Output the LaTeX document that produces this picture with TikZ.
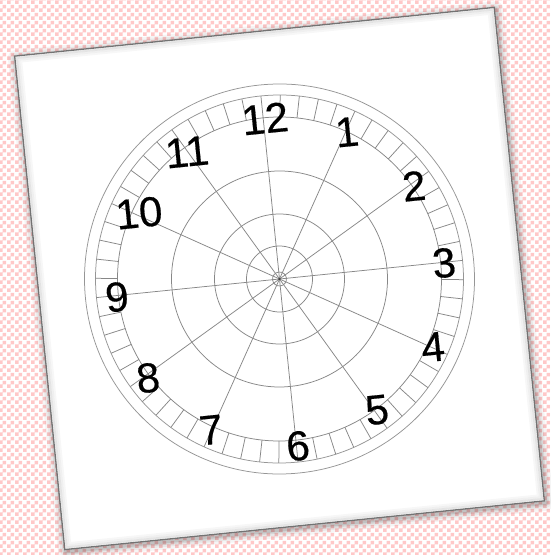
\documentclass[tikz,border=0pt]{standalone}
\usepackage{fontspec}
\setmainfont{Liberation Sans}
\newfontfamily\numfont[FakeBold=0.4]{Liberation Sans}
\usetikzlibrary{patterns}
\definecolor{pinkc}{RGB}{255,200,200}
\definecolor{linec}{RGB}{135,135,135}
\definecolor{ringc}{RGB}{150,150,150}
\pgfdeclarepatternformonly{pinkcheck}{\pgfpointorigin}{\pgfqpoint{8pt}{8pt}}{\pgfqpoint{8pt}{8pt}}{%
  \pgfpathrectangle{\pgfpointorigin}{\pgfqpoint{4pt}{4pt}}%
  \pgfpathrectangle{\pgfqpoint{4pt}{4pt}}{\pgfqpoint{4pt}{4pt}}%
  \pgfusepath{fill}}
\tikzset{
  clockline/.style={draw=linec, line width=0.75pt},
  ringline/.style={draw=ringc, line width=0.75pt},
  hournum/.style={inner sep=0pt, font=\numfont\fontsize{42}{42}\selectfont},
}
\begin{document}
\begin{tikzpicture}[x=1pt,y=1pt]
\useasboundingbox (0,0) rectangle (550,555);
\fill[white] (0,0) rectangle (550,555);
\fill[pattern=pinkcheck, pattern color=pinkc] (0,0) rectangle (550,555);
% paper
\begin{scope}[shift={(279.5,276.5)}, rotate=5.8]
  \foreach \w/\o in {16/0.04,11/0.05,7/0.07,4/0.10}
    \draw[black, opacity=\o, line width=\w pt, line join=round] (-240,-250) rectangle (242,246);
  \fill[white] (-241,-248) rectangle (241,248);
  \foreach \i/\o in {2/0.10,4/0.06,6/0.03}
    \draw[black, opacity=\o, line width=2pt] (-241+\i,-248+\i) rectangle (241-\i,248-\i);
  \draw[black!55, line width=1.3pt] (-241,-248) rectangle (241,248);
\end{scope}
% clock
\begin{scope}[shift={(279.5,276)}, rotate=5.8, transform shape]
  \foreach \r in {7,33,65,108,162}
    \draw[clockline] (0,0) circle (\r pt);
  \foreach \r in {184,195}
    \draw[ringline] (0,0) circle (\r pt);
  \foreach \a in {0,6,...,354}
    \draw[clockline] (\a:162) -- (\a:184);
  \foreach \a in {0,30,...,330}
    \draw[clockline] (0,0) -- (\a:162);
  \fill[black!75] (0,0) circle (1.3pt);
  \node[hournum] (n12) at (1.8,161.1) {12};
  \node[hournum] (n1) at (82.0,139.4) {1};
  \node[hournum] (n2) at (143.2,78.9) {2};
  \node[hournum] (n3) at (165.3,-0.7) {3};
  \node[hournum] (n4) at (145.8,-83.2) {4};
  \node[hournum] (n5) at (83.8,-140.2) {5};
  \node[hournum] (n6) at (1.5,-168) {6};
  \node[hournum] (n7) at (-83.4,-143.3) {7};
  \node[hournum] (n8) at (-140.8,-85.2) {8};
  \node[hournum] (n9) at (-163.5,-1.5) {9};
  \node[hournum] (n10) at (-133.1,79.9) {10};
  \node[hournum] (n11) at (-79.2,135.7) {11};
\end{scope}
\end{tikzpicture}
\end{document}
